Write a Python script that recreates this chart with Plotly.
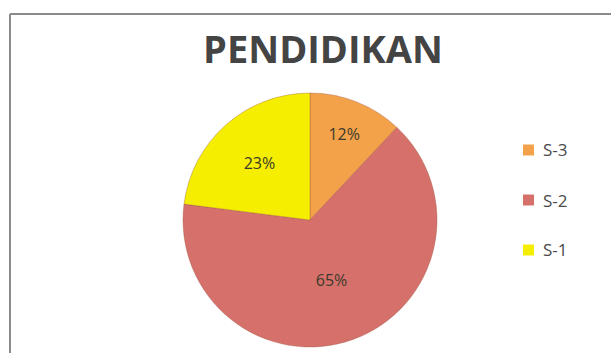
import plotly.graph_objects as go

# Education level distribution
categories = ["S-3", "S-2", "S-1"]
shares = [12, 65, 23]
colors = ["#F4A24A", "#D6706A", "#F6EE00"]

W, H = 611, 353
cx, cy, r = 310, 220, 127  # pie centre / radius in px (from top-left)

fig = go.Figure(
    go.Pie(
        labels=categories,
        values=shares,
        sort=False,
        direction="clockwise",
        rotation=0,
        marker=dict(colors=colors, line=dict(color="rgba(150,80,60,0.35)", width=1)),
        texttemplate="%{value}%",
        textposition="inside",
        insidetextorientation="horizontal",
        textfont=dict(family="Open Sans", size=16, color="#3b3a2c"),
        showlegend=False,
        hoverinfo="label+percent",
        domain=dict(
            x=[(cx - r) / W, (cx + r) / W],
            y=[(H - cy - r) / H, (H - cy + r) / H],
        ),
    )
)

# Frame around the chart area
fig.add_shape(type="line", xref="paper", yref="paper",
              x0=10 / W, x1=1, y0=1 - 14 / H, y1=1 - 14 / H,
              line=dict(color="#8a8a8a", width=2))
fig.add_shape(type="line", xref="paper", yref="paper",
              x0=10 / W, x1=10 / W, y0=0, y1=1 - 14 / H,
              line=dict(color="#8a8a8a", width=2))

# Legend: colour squares with labels
legend_rows = [150, 200, 250]
for name, col, y in zip(categories, colors, legend_rows):
    fig.add_shape(type="rect", xref="paper", yref="paper",
                  x0=523 / W, x1=534 / W,
                  y0=1 - (y + 5.5) / H, y1=1 - (y - 5.5) / H,
                  fillcolor=col, line=dict(width=0))
    fig.add_annotation(x=541 / W, y=1 - y / H, xref="paper", yref="paper",
                       text=name, showarrow=False, xanchor="left", yanchor="middle",
                       font=dict(family="Open Sans", size=17, color="#4a4a4a"))

fig.update_layout(
    width=W,
    height=H,
    margin=dict(l=0, r=0, t=0, b=0),
    paper_bgcolor="white",
    plot_bgcolor="white",
    title=dict(
        text="<b>PENDIDIKAN</b>",
        x=323 / W,
        xanchor="center",
        y=1 - 50 / H,
        yanchor="middle",
        font=dict(family="Open Sans", size=38, color="#444444"),
    ),
)

fig.write_html("out.html")
